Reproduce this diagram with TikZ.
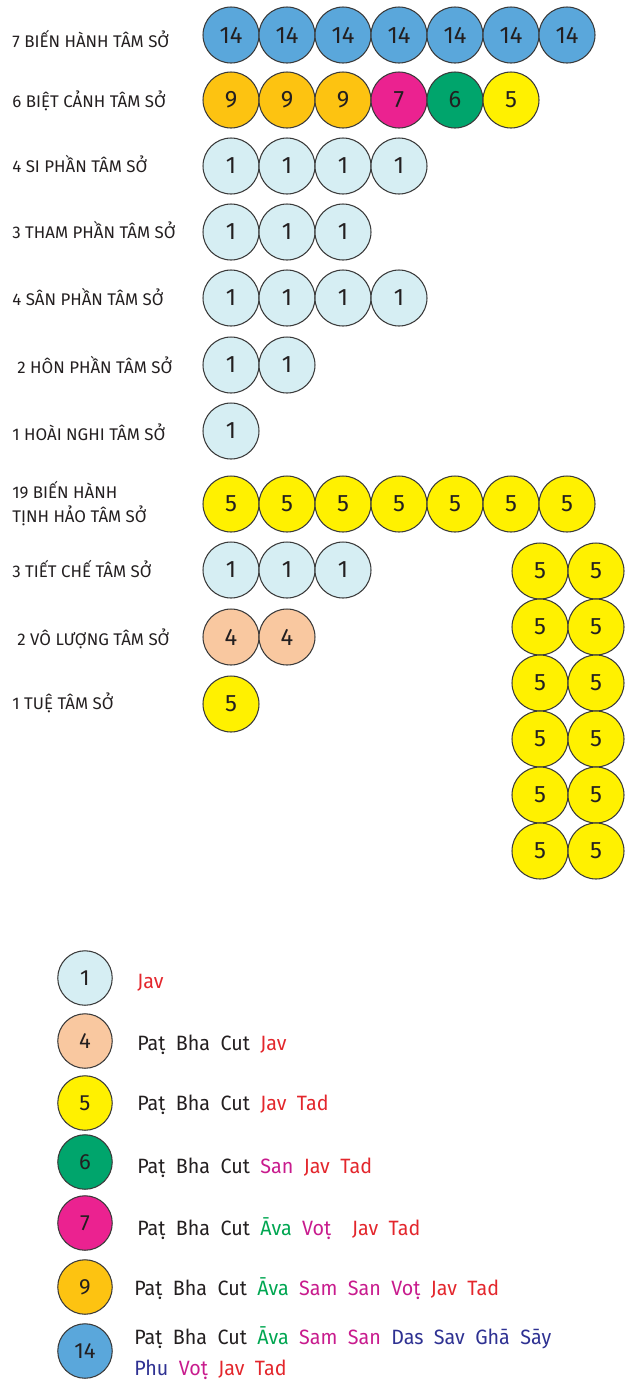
\documentclass[tikz,border=0pt]{standalone}
\usepackage{fontspec}
\setmainfont{Fira Sans}
\newfontfamily\chuthich[WordSpace=2.0, FakeStretch=0.95]{Fira Sans}
\usepackage{tikz}

\definecolor{vien}{HTML}{3A3A3A}
\definecolor{chuso}{HTML}{231F20}
\definecolor{xanhnhat}{HTML}{D6EEF3}
\definecolor{xanhduong}{HTML}{5AA7DB}
\definecolor{camvang}{HTML}{FDC311}
\definecolor{hong}{HTML}{EB2290}
\definecolor{xanhla}{HTML}{00A56C}
\definecolor{vang}{HTML}{FFF100}
\definecolor{dao}{HTML}{F9C8A0}
\definecolor{chudo}{HTML}{E3262C}
\definecolor{chutim}{HTML}{C81B8D}
\definecolor{chuxanh}{HTML}{00A651}
\definecolor{chunavy}{HTML}{2E3192}

\begin{document}
\begin{tikzpicture}[x=0.02cm, y=-0.02cm,
  tam/.style={circle, draw=vien, line width=0.6pt, minimum size=1.12cm, inner sep=0pt,
    text=chuso, font=\fontsize{13.5}{14}\selectfont},
  mau/.style={tam, minimum size=1.09cm, font=\fontsize{12.5}{13}\selectfont},
  nhan/.style={anchor=base west, inner sep=0pt, text=chuso, align=left,
    font=\fontsize{9.6}{13.6}\selectfont},
  ghichu/.style={anchor=base west, inner sep=0pt, text=chuso, align=left,
    font=\chuthich\fontsize{11.8}{17.6}\selectfont}]
\useasboundingbox (0,0) rectangle (627,1394);

% Labels on the left (two-line labels sit on their last baseline)
\node[nhan] (n1) at (12,47) {7 BIẾN HÀNH TÂM SỞ};
\node[nhan] (n2) at (12,107) {6 BIỆT CẢNH TÂM SỞ};
\node[nhan] (n3) at (12,172) {4 SI PHẦN TÂM SỞ};
\node[nhan] (n4) at (12,238) {3 THAM PHẦN TÂM SỞ};
\node[nhan] (n5) at (12,305) {4 SÂN PHẦN TÂM SỞ};
\node[nhan] (n6) at (17,373) {2 HÔN PHẦN TÂM SỞ};
\node[nhan] (n7) at (12,440) {1 HOÀI NGHI TÂM SỞ};
\node[nhan] (n8) at (12,522) {19 BIẾN HÀNH\\TỊNH HẢO TÂM SỞ};
\node[nhan] (n9) at (12,577) {3 TIẾT CHẾ TÂM SỞ};
\node[nhan] (n10) at (17,645) {2 VÔ LƯỢNG TÂM SỞ};
\node[nhan] (n11) at (12,709) {1 TUỆ TÂM SỞ};

% Circles, row by row
\foreach \i in {1,...,7}
  \node[tam, fill=xanhduong] (a\i) at (175+56*\i,35) {14};
\foreach \i/\so/\nen in {1/9/camvang, 2/9/camvang, 3/9/camvang, 4/7/hong, 5/6/xanhla, 6/5/vang}
  \node[tam, fill=\nen] (b\i) at (175+56*\i,100) {\so};
\foreach \i in {1,...,4}
  \node[tam, fill=xanhnhat] (c\i) at (175+56*\i,166) {1};
\foreach \i in {1,...,3}
  \node[tam, fill=xanhnhat] (d\i) at (175+56*\i,232) {1};
\foreach \i in {1,...,4}
  \node[tam, fill=xanhnhat] (e\i) at (175+56*\i,298) {1};
\foreach \i in {1,2}
  \node[tam, fill=xanhnhat] (f\i) at (175+56*\i,365) {1};
\node[tam, fill=xanhnhat] (g1) at (231,431) {1};
\foreach \i in {1,...,7}
  \node[tam, fill=vang] (h\i) at (175+56*\i,504) {5};
\foreach \i in {1,...,3}
  \node[tam, fill=xanhnhat] (k\i) at (175+56*\i,570) {1};
\foreach \i in {1,2}
  \node[tam, fill=dao] (m\i) at (175+56*\i,637) {4};
\node[tam, fill=vang] (p1) at (231,704) {5};

% Two columns on the right
\foreach \j in {1,...,6} {
  \node[tam, fill=vang] (l\j) at (540,515+56*\j) {5};
  \node[tam, fill=vang] (r\j) at (596,515+56*\j) {5};
}

% Legend
\node[mau, fill=xanhnhat] (k1m) at (85,978) {1};
\node[mau, fill=dao] (k4m) at (85,1041) {4};
\node[mau, fill=vang] (k5m) at (85,1103) {5};
\node[mau, fill=xanhla] (k6m) at (85,1162) {6};
\node[mau, fill=hong] (k7m) at (85,1223) {7};
\node[mau, fill=camvang] (k9m) at (85,1287) {9};
\node[mau, fill=xanhduong] (k14m) at (85,1351) {14};

\node[ghichu] (t1) at (137,988) {\textcolor{chudo}{Jav}};
\node[ghichu] (t4) at (137,1050) {Paṭ Bha Cut \textcolor{chudo}{Jav}};
\node[ghichu] (t5) at (137,1110) {Paṭ Bha Cut \textcolor{chudo}{Jav Tad}};
\node[ghichu] (t6) at (137,1173) {Paṭ Bha Cut \textcolor{chutim}{San} \textcolor{chudo}{Jav Tad}};
\node[ghichu] (t7) at (137,1235) {Paṭ Bha Cut \textcolor{chuxanh}{Āva} \textcolor{chutim}{Voṭ}\ \ \textcolor{chudo}{Jav Tad}};
\node[ghichu] (t9) at (134,1295) {Paṭ Bha Cut \textcolor{chuxanh}{Āva} \textcolor{chutim}{Sam San Voṭ} \textcolor{chudo}{Jav Tad}};
\node[ghichu] (t14) at (134,1375) {Paṭ Bha Cut \textcolor{chuxanh}{Āva} \textcolor{chutim}{Sam San} \textcolor{chunavy}{Das Sav Ghā Sāy}\\
  \textcolor{chunavy}{Phu} \textcolor{chutim}{Voṭ} \textcolor{chudo}{Jav Tad}};
\end{tikzpicture}
\end{document}
